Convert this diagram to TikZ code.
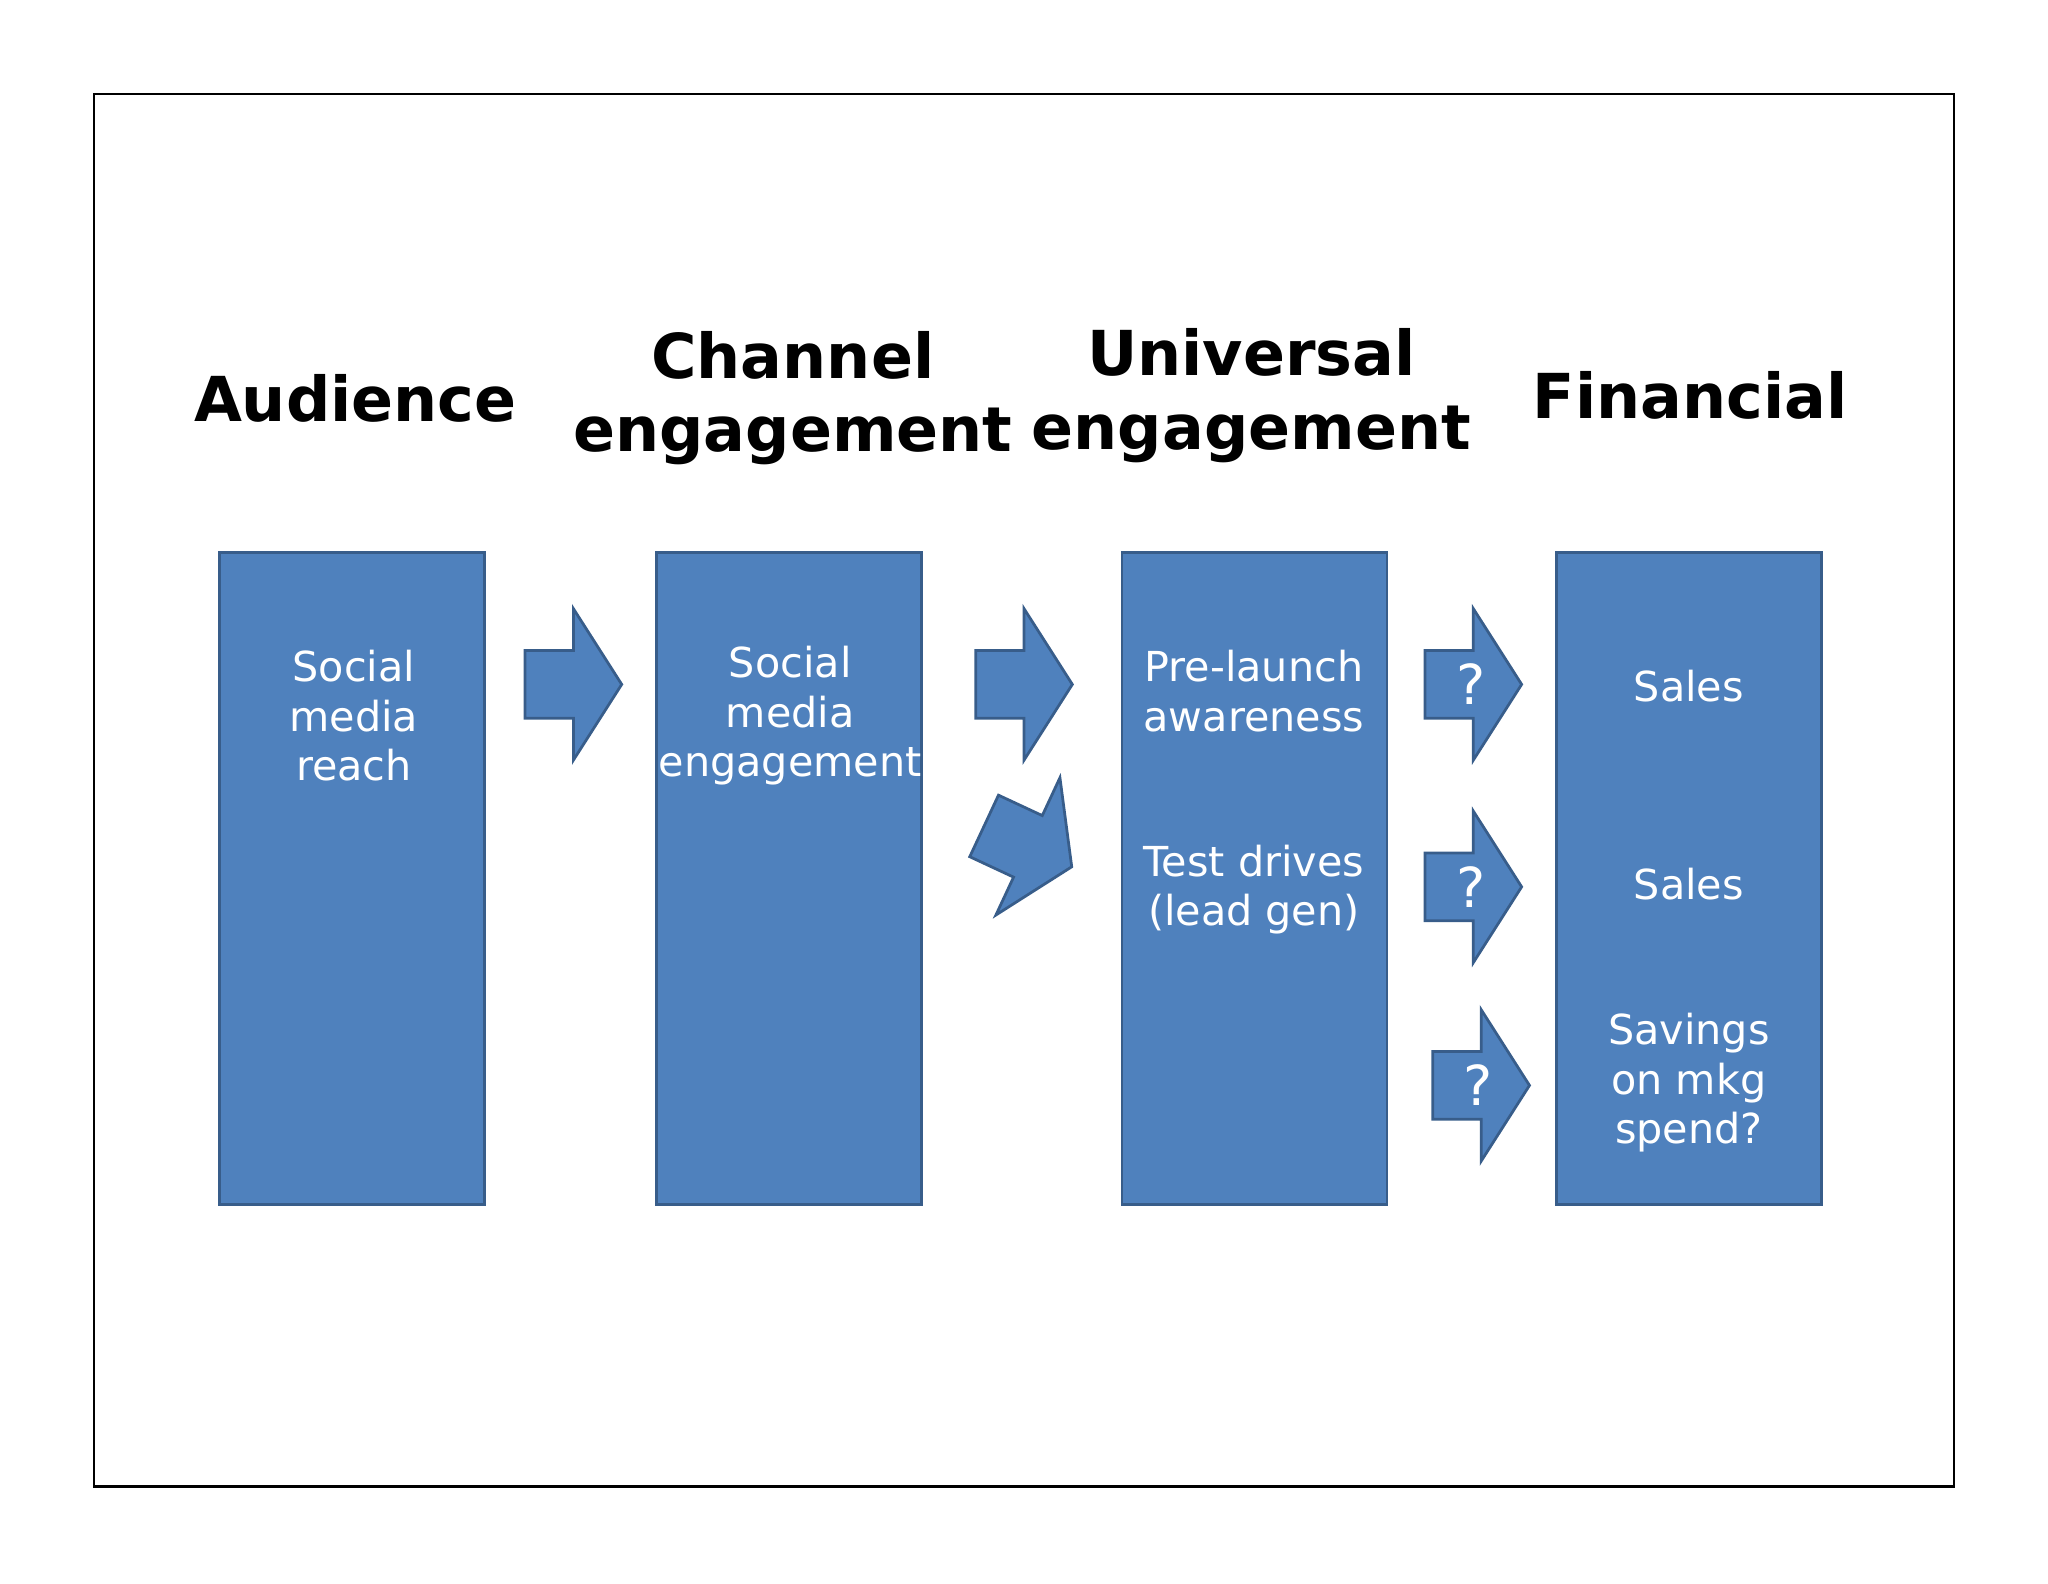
\documentclass[tikz,border=0pt]{standalone}
\usepackage{fontspec}
\setmainfont{DejaVu Sans}
\usetikzlibrary{positioning}
\definecolor{boxblue}{HTML}{4F81BD}
\definecolor{boxedge}{HTML}{385D8A}
\begin{document}
\begin{tikzpicture}[x=0.02cm,y=-0.02cm,
  col/.style={draw=boxedge,fill=boxblue,line width=1.2pt,inner sep=0pt,minimum width=4.06cm,minimum height=9.98cm},
  lbl/.style={text=white,align=center,font=\fontsize{18}{21.6}\selectfont},
  ttl/.style={align=center,font=\bfseries\fontsize{27}{32}\selectfont},
  blk/.pic={\draw[draw=boxedge,fill=boxblue,line width=1.2pt,line join=miter]
    (-37,26) -- (0,26) -- (0,58) -- (37,0) -- (0,-58) -- (0,-26) -- (-37,-26) -- cycle;}]
\useasboundingbox (0,0) rectangle (1568,1212);
\draw[line width=1pt] (72,72) rectangle (1496,1138);

% titles
\node[ttl] (t1) at (272,305) {Audience};
\node[ttl] (t2) at (607,305) {Channel\\engagement};
\node[ttl] (t3) at (958,303) {Universal\\engagement};
\node[ttl] (t4) at (1294,303) {Financial};

% columns
\node[col] (b1) at (269.5,672.5) {};
\node[col] (b2) at (604,672.5) {};
\node[col] (b3) at (960.5,672.5) {};
\node[col] (b4) at (1293,672.5) {};

% column texts
\node[lbl] (s1) at (271,548) {Social\\media\\reach};
\node[lbl] (s2) at (605,548) {Social\\media\\engagement};
\node[lbl] (s3) at (960,529) {Pre-launch\\awareness};
\node[lbl] (s4) at (960,681) {Test drives\\(lead gen)};
\node[lbl] (s5) at (1293,525) {Sales};
\node[lbl] (s6) at (1293,677) {Sales};
\node[lbl] (s7) at (1293,829) {Savings\\on mkg\\spend?};

% block arrows
\pic at (439,524) {blk};
\pic at (784,524) {blk};
\pic[rotate=-25] at (787,648) {blk};
\pic at (1128,524) {blk};
\pic at (1128,679) {blk};
\pic at (1134,831) {blk};
\node[lbl,font=\fontsize{24}{26}\selectfont] (q1) at (1126,524) {?};
\node[lbl,font=\fontsize{24}{26}\selectfont] (q2) at (1126,679) {?};
\node[lbl,font=\fontsize{24}{26}\selectfont] (q3) at (1132,831) {?};
\end{tikzpicture}
\end{document}
